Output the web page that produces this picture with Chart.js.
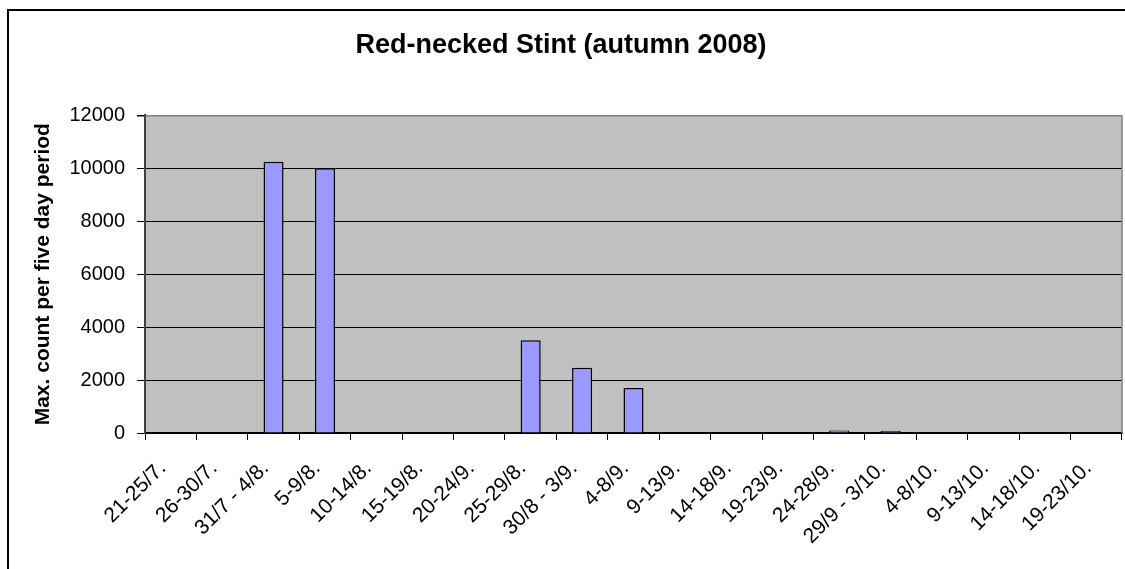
<!DOCTYPE html>
<html lang="en">
<head>
<meta charset="utf-8">
<title>Red-necked Stint (autumn 2008)</title>
<script src="https://cdn.jsdelivr.net/npm/chart.js@4.4.1/dist/chart.umd.min.js"></script>
<style>
    html, body {
        margin: 0;
        padding: 0;
        background: #ffffff;
        overflow: hidden;
    }
    #wrap {
        width: 1146px;
        height: 580px;
    }
</style>
</head>
<body>
<div id="wrap">
    <canvas id="diagram" width="1146" height="580"></canvas>
</div>
<script>
// periods (five day periods, autumn 2008)
const periods = [
    '21-25/7.', '26-30/7.', '31/7 - 4/8.', '5-9/8.', '10-14/8.', '15-19/8.',
    '20-24/9.', '25-29/8.', '30/8 - 3/9.', '4-8/9.', '9-13/9.', '14-18/9.',
    '19-23/9.', '24-28/9.', '29/9 - 3/10.', '4-8/10.', '9-13/10.', '14-18/10.',
    '19-23/10.'
];

// max count per five day period
const maxCounts = [
    0, 0, 10250, 10000, 0, 0,
    0, 3500, 2470, 1700, 0, 0,
    0, 90, 75, 0, 0, 0,
    0
];

// y axis ticks
const yTicks = [0, 2000, 4000, 6000, 8000, 10000, 12000];

const fontFamily = "'Liberation Sans', Arial, sans-serif";

window.onload = init;

/**
* Ritar diagrammet när sidan laddas
* @returns {void}
*/
function init() {
    createChart();
}

/**
* Plugin som fyller ritytan med grått och ritar ramen runt hela diagrammet
*/
const frame = {
    id: 'frame',
    beforeDraw(chart) {
        const { ctx, chartArea: a } = chart;
        ctx.save();
        ctx.fillStyle = '#c0c0c0';
        ctx.fillRect(a.left, a.top, a.right - a.left, a.bottom - a.top);
        ctx.restore();
    },
    afterDraw(chart) {
        const { ctx, chartArea: a } = chart;
        ctx.save();
        ctx.strokeStyle = '#808080';
        ctx.lineWidth = 1.5;
        ctx.beginPath();
        ctx.moveTo(a.right, a.top);
        ctx.lineTo(a.right, a.bottom);
        ctx.stroke();
        ctx.strokeStyle = '#000000';
        ctx.lineWidth = 2;
        ctx.strokeRect(8, 10, 1300, 700);
        ctx.restore();
    }
};

/**
* Skapar stapeldiagrammet
* @returns {void}
*/
function createChart() {
    const ctx = document.getElementById('diagram').getContext('2d');

    new Chart(ctx, {
        type: 'bar',
        data: {
            labels: periods,
            datasets: [
                {
                    label: 'Red-necked Stint',
                    data: maxCounts,
                    backgroundColor: '#9999ff',
                    borderColor: '#000000',
                    borderWidth: 1.5,
                    barPercentage: 0.39,
                    categoryPercentage: 1
                }
            ]
        },
        options: {
            responsive: false,
            animation: false,
            layout: {
                padding: { left: 0, right: 24, top: 0, bottom: 0 }
            },
            plugins: {
                legend: { display: false },
                tooltip: { enabled: false },
                title: {
                    display: true,
                    text: 'Red-necked Stint (autumn 2008)',
                    color: '#000000',
                    font: { family: fontFamily, size: 27, weight: 'bold' },
                    padding: { top: 29, bottom: 54 }
                }
            },
            scales: {
                x: {
                    afterFit(scale) {
                        scale.height = 147;
                    },
                    border: { color: '#000000', width: 1.5 },
                    grid: {
                        offset: true,
                        drawOnChartArea: false,
                        drawTicks: true,
                        tickLength: 7,
                        tickColor: '#000000'
                    },
                    ticks: {
                        autoSkip: false,
                        minRotation: 45,
                        maxRotation: 45,
                        labelOffset: -8,
                        padding: 16,
                        color: '#000000',
                        font: { family: fontFamily, size: 21 }
                    }
                },
                y: {
                    min: 0,
                    max: 12000,
                    afterFit(scale) {
                        scale.width = 145;
                    },
                    afterBuildTicks(scale) {
                        scale.ticks = yTicks.map(v => ({ value: v }));
                    },
                    border: { color: '#404040', width: 2 },
                    grid: {
                        color: c => (c.tick && c.tick.value === 12000 ? '#808080' : '#000000'),
                        lineWidth: c => (c.tick && c.tick.value === 12000 ? 1.5 : 1),
                        tickLength: 8,
                        tickColor: '#000000'
                    },
                    ticks: {
                        padding: 12,
                        color: '#000000',
                        font: { family: fontFamily, size: 20 },
                        callback: value => String(value)
                    },
                    title: {
                        display: true,
                        text: 'Max. count per five day period',
                        color: '#000000',
                        font: { family: fontFamily, size: 21, weight: 'bold' },
                        padding: { top: 31, bottom: 0 }
                    }
                }
            }
        },
        plugins: [frame]
    });
}
</script>
</body>
</html>
